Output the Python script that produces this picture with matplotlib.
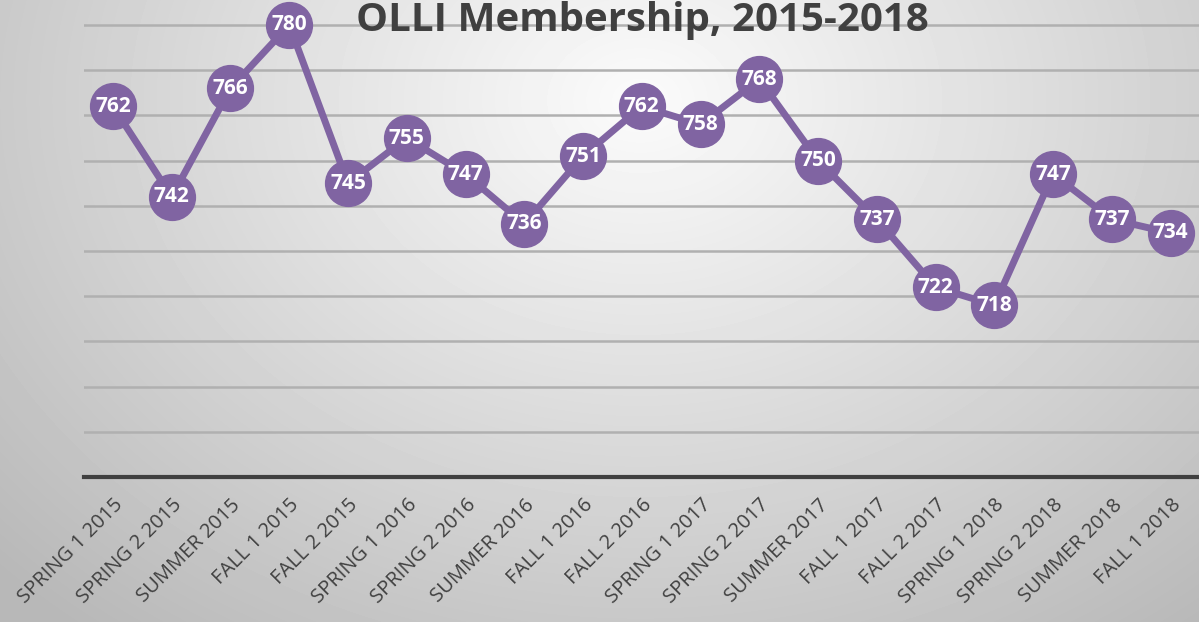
import numpy as np
import matplotlib
matplotlib.use("Agg")
import matplotlib.pyplot as plt

# data
terms = ["SPRING 1 2015", "SPRING 2 2015", "SUMMER 2015", "FALL 1 2015", "FALL 2 2015",
         "SPRING 1 2016", "SPRING 2 2016", "SUMMER 2016", "FALL 1 2016", "FALL 2 2016",
         "SPRING 1 2017", "SPRING 2 2017", "SUMMER 2017", "FALL 1 2017", "FALL 2 2017",
         "SPRING 1 2018", "SPRING 2 2018", "SUMMER 2018", "FALL 1 2018"]
members = [762, 742, 766, 780, 745, 755, 747, 736, 751, 762, 758, 768, 750, 737, 722,
           718, 747, 737, 734]

purple = "#8064A2"
W, H = 1199, 622
fig = plt.figure(figsize=(W / 100, H / 100), dpi=100)

# radial grey background
bg = fig.add_axes([0, 0, 1, 1])
yy, xx = np.mgrid[0:H, 0:W]
r = np.sqrt(((xx - 640) / 900.0) ** 2 + ((yy - 100) / 700.0) ** 2)
shade = np.clip(0.985 - 0.27 * r, 0.72, 0.985)
bg.imshow(shade, cmap="gray", vmin=0, vmax=1, aspect="auto", extent=[0, 1, 0, 1])
bg.axis("off")

# plot area: 680 at y=477px, 10 units = 45.2px, left edge 83.6px, right edge 1200px
bottom = (H - 477) / H
height = 11 * 45.2 / H
ax = fig.add_axes([83.6 / W, bottom, (1200 - 83.6) / W, height])
ax.patch.set_alpha(0)
x = np.arange(len(members))
ax.plot(x, members, color=purple, lw=5, marker="o", ms=33, zorder=3, clip_on=False)
for xi, v in zip(x, members):
    ax.text(xi, v, str(v), color="white", fontsize=15, fontweight="bold",
            family="Open Sans", ha="center", va="center", zorder=4)

ax.set_xlim(-0.5, len(members) - 0.5)
ax.set_ylim(680, 790)
ax.set_yticks(np.arange(690, 791, 10))
ax.yaxis.grid(True, color="#b0b0b0", lw=1.8)
ax.set_axisbelow(True)
ax.tick_params(axis="y", left=False, labelleft=False)
ax.tick_params(axis="x", length=0, pad=13)
for s in ["top", "right", "left"]:
    ax.spines[s].set_visible(False)
ax.spines["bottom"].set_color("#404040")
ax.spines["bottom"].set_linewidth(3)
ax.set_xticks(x)
ax.set_xticklabels(terms, rotation=45, ha="right", rotation_mode="anchor",
                   fontsize=14.5, color="#404040", family="Open Sans")

fig.text(0.536, 1 - 31 / H, "OLLI Membership, 2015-2018", ha="center", va="baseline",
         fontsize=29, fontweight="bold", color="#404040", family="Open Sans")

fig.savefig("out.png", dpi=100)
